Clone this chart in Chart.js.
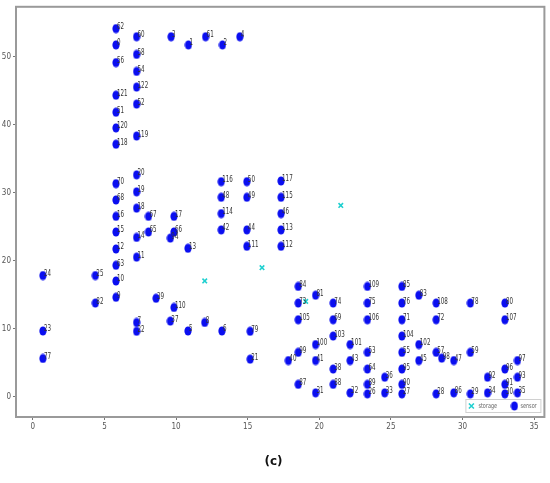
<!DOCTYPE html>
<html>
<head>
<meta charset="utf-8">
<script src="https://cdn.jsdelivr.net/npm/chart.js@4/dist/chart.umd.min.js"></script>
<style>
  html, body { margin: 0; padding: 0; background: #fff; }
  #wrap { width: 550px; height: 483px; }
</style>
</head>
<body>
<div id="wrap"><canvas id="chart"></canvas></div>
<script>
// sensor points (label, x, y)
var sensorLabels = [62, 0, 56, 121, 51, 120, 118, 60, 58, 54, 122, 52, 119, 3, 1, 61, 2, 4,
  70, 68, 16, 15, 12, 63, 10, 9, 20, 19, 18, 14, 11, 67, 65, 17, 66, 94, 13,
  116, 48, 114, 42, 50, 49, 44, 111, 117, 115, 46, 113, 112,
  24, 25, 82, 39, 110, 7, 22, 37, 5, 8, 6, 79, 21, 23, 77,
  84, 81, 73, 74, 109, 75, 85, 76, 83, 108, 78, 80,
  105, 69, 106, 71, 72, 107, 103, 104, 100, 101, 102,
  40, 99, 41, 38, 43, 53, 64, 87, 31, 88, 32, 89, 26, 36, 33,
  55, 95, 90, 27, 45, 57, 98, 47, 59, 28, 86, 29, 34, 92, 96, 97, 93, 91, 30, 35];
var sensorX = [5.8, 5.8, 5.8, 5.8, 5.8, 5.8, 5.8, 7.24, 7.24, 7.24, 7.24, 7.24, 7.24, 9.65, 10.86, 12.06, 13.24, 14.45,
  5.8, 5.8, 5.8, 5.8, 5.8, 5.8, 5.8, 5.8, 7.24, 7.24, 7.24, 7.24, 7.24, 8.07, 8.07, 9.85, 9.85, 9.6, 10.83,
  13.15, 13.15, 13.15, 13.15, 14.94, 14.94, 14.94, 14.94, 17.33, 17.33, 17.33, 17.33, 17.33,
  0.7, 4.36, 4.36, 8.6, 9.85, 7.24, 7.24, 9.6, 10.83, 12.0, 13.2, 15.17, 15.17, 0.7, 0.7,
  18.53, 19.74, 18.53, 20.97, 23.36, 23.36, 25.77, 25.77, 26.95, 28.16, 30.55, 32.96,
  18.53, 20.97, 23.36, 25.77, 28.16, 32.96, 20.97, 25.77, 19.74, 22.15, 26.95,
  17.84, 18.53, 19.74, 20.97, 22.15, 23.36, 23.36, 18.53, 19.74, 20.97, 22.15, 23.36, 23.36, 24.57, 24.57,
  25.77, 25.77, 25.77, 25.77, 26.95, 28.16, 28.55, 29.39, 30.55, 28.16, 29.39, 30.55, 31.75, 31.75, 32.96, 33.84, 33.84, 32.96, 32.96, 33.84];
var sensorY = [54.1, 51.7, 49.1, 44.3, 41.8, 39.5, 37.1, 52.9, 50.3, 47.8, 45.5, 43.0, 38.3, 52.9, 51.7, 52.9, 51.7, 52.9,
  31.3, 28.9, 26.5, 24.2, 21.7, 19.3, 17.0, 14.6, 32.6, 30.1, 27.7, 23.4, 20.5, 26.5, 24.2, 26.5, 24.2, 23.3, 21.8,
  31.6, 29.3, 26.9, 24.5, 31.6, 29.3, 24.5, 22.1, 31.7, 29.3, 26.9, 24.5, 22.1,
  17.8, 17.8, 13.75, 14.45, 13.1, 10.9, 9.6, 11.1, 9.65, 10.9, 9.65, 9.6, 5.5, 9.65, 5.6,
  16.2, 14.9, 13.75, 13.75, 16.2, 13.75, 16.2, 13.75, 14.9, 13.75, 13.75, 13.75,
  11.3, 11.3, 11.3, 11.3, 11.3, 11.3, 8.9, 8.9, 7.65, 7.65, 7.65,
  5.3, 6.5, 5.3, 4.05, 5.3, 6.5, 4.05, 1.8, 0.55, 1.8, 0.55, 1.8, 0.4, 2.85, 0.55,
  6.5, 4.05, 1.8, 0.4, 5.3, 6.5, 5.65, 5.3, 6.5, 0.4, 0.55, 0.4, 0.55, 2.85, 4.05, 5.3, 2.85, 1.8, 0.4, 0.55];

// storage points
var storageX = [12.0, 16.0, 21.5, 19.05];
var storageY = [17.0, 18.95, 28.1, 14.0];

var xTicks = [0, 5, 10, 15, 20, 25, 30, 35];
var yTicks = [0, 10, 20, 30, 40, 50];

var sensorColor = "#0a0ef0";
var storageColor = "#20d0d0";

// blue dots in the picture are a bit taller than wide
var dot = document.createElement("canvas");
dot.width = 8;
dot.height = 10;
var dctx = dot.getContext("2d");
dctx.fillStyle = sensorColor;
dctx.beginPath();
dctx.ellipse(4, 5, 3.6, 4.6, 0, 0, Math.PI * 2);
dctx.fill();

function toPoints(xs, ys) {
  var out = [];
  for (var i = 0; i < xs.length; i++) out.push({ x: xs[i], y: ys[i] });
  return out;
}

// frame, point numbers and the small legend box
var extras = {
  id: "extras",
  afterDatasetsDraw: function (chart) {
    var ctx = chart.ctx;
    var meta = chart.getDatasetMeta(1);
    ctx.save();
    ctx.fillStyle = "#333";
    ctx.font = "9px 'DejaVu Sans'";
    ctx.textAlign = "left";
    ctx.textBaseline = "alphabetic";
    meta.data.forEach(function (el, i) {
      ctx.save();
      ctx.translate(el.x + 1, el.y + 0.5);
      ctx.scale(0.62, 1);
      ctx.fillText(String(sensorLabels[i]), 0, 0);
      ctx.restore();
    });
    ctx.restore();
  },
  afterDraw: function (chart) {
    var ctx = chart.ctx;
    var a = chart.chartArea;
    ctx.save();
    ctx.strokeStyle = "#9a9a9a";
    ctx.lineWidth = 2;
    ctx.strokeRect(a.left, a.top, a.right - a.left, a.bottom - a.top);

    // legend in lower right corner
    var bx = a.right - 79, by = a.bottom - 18, bw = 75, bh = 13;
    ctx.fillStyle = "#fff";
    ctx.strokeStyle = "#d0d0d0";
    ctx.lineWidth = 1;
    ctx.fillRect(bx, by, bw, bh);
    ctx.strokeRect(bx + 0.5, by + 0.5, bw, bh);

    ctx.strokeStyle = storageColor;
    ctx.lineWidth = 1.6;
    var cx = bx + 6, cy = by + 7;
    ctx.beginPath();
    ctx.moveTo(cx - 2.5, cy - 2.5); ctx.lineTo(cx + 2.5, cy + 2.5);
    ctx.moveTo(cx + 2.5, cy - 2.5); ctx.lineTo(cx - 2.5, cy + 2.5);
    ctx.stroke();
    ctx.drawImage(dot, bx + 45, by + 2);

    ctx.fillStyle = "#666";
    ctx.font = "7px 'DejaVu Sans'";
    ctx.textBaseline = "middle";
    ctx.save();
    ctx.translate(bx + 13, cy);
    ctx.scale(0.7, 1);
    ctx.fillText("storage", 0, 0);
    ctx.restore();
    ctx.save();
    ctx.translate(bx + 55, cy);
    ctx.scale(0.7, 1);
    ctx.fillText("sensor", 0, 0);
    ctx.restore();
    ctx.restore();
  }
};

var tickFont = { family: "'Liberation Sans Narrow', 'DejaVu Sans Condensed', 'Liberation Sans', sans-serif", size: 8 };

new Chart(document.getElementById("chart"), {
  type: "scatter",
  data: {
    datasets: [
      {
        label: "storage",
        data: toPoints(storageX, storageY),
        pointStyle: "crossRot",
        pointRadius: 3.2,
        pointBorderWidth: 1.6,
        borderColor: storageColor,
        backgroundColor: storageColor
      },
      {
        label: "sensor",
        data: toPoints(sensorX, sensorY),
        pointStyle: dot,
        pointRadius: 4,
        borderColor: sensorColor,
        backgroundColor: sensorColor
      }
    ]
  },
  options: {
    responsive: true,
    maintainAspectRatio: false,
    animation: false,
    layout: { padding: { top: 4, right: 3, left: 0, bottom: 0 } },
    plugins: {
      legend: { display: false },
      tooltip: { enabled: false },
      title: {
        display: true,
        position: "bottom",
        text: "(c)",
        color: "#111",
        font: { family: "'DejaVu Sans'", size: 12, weight: "bold" },
        padding: { top: 8, bottom: 14 }
      }
    },
    scales: {
      x: {
        type: "linear",
        min: -1.18,
        max: 35.72,
        afterBuildTicks: function (axis) { axis.ticks = xTicks.map(function (v) { return { value: v }; }); },
        afterFit: function (axis) { axis.height = 29.6; },
        border: { display: false },
        grid: { drawOnChartArea: false, drawTicks: true, tickLength: 3, color: "#777" },
        ticks: { color: "#555", font: tickFont, padding: 2, maxRotation: 0 }
      },
      y: {
        type: "linear",
        min: -3,
        max: 57.3,
        afterBuildTicks: function (axis) { axis.ticks = yTicks.map(function (v) { return { value: v }; }); },
        afterFit: function (axis) { axis.width = 16; },
        border: { display: false },
        grid: { drawOnChartArea: false, drawTicks: true, tickLength: 3, color: "#777" },
        ticks: { color: "#555", font: tickFont, padding: 2 }
      }
    }
  },
  plugins: [extras]
});
</script>
</body>
</html>
